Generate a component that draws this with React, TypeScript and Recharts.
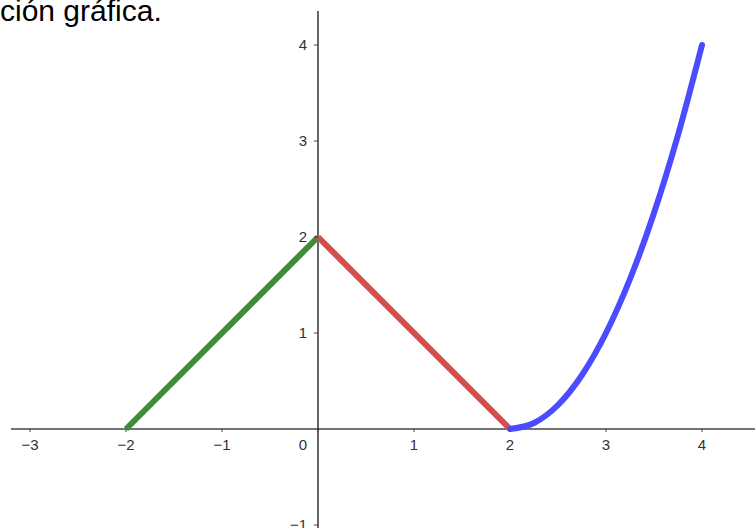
import React from "react";
import { LineChart, Line, XAxis, YAxis, ReferenceLine, ReferenceDot } from "recharts";

// Piecewise function pieces
const greenPiece = [
  { x: -2, y: 0 },
  { x: 0, y: 2 },
];
const redPiece = [
  { x: 0, y: 2 },
  { x: 2, y: 0 },
];
const bluePiece = [
  { x: 2, y: 0 },
  { x: 2.25, y: 0.0625 },
  { x: 2.5, y: 0.25 },
  { x: 2.75, y: 0.5625 },
  { x: 3, y: 1 },
  { x: 3.25, y: 1.5625 },
  { x: 3.5, y: 2.25 },
  { x: 3.75, y: 3.0625 },
  { x: 4, y: 4 },
];

const xTicks = [-3, -2, -1, 0, 1, 2, 3, 4];
const yTicks = [-1, 1, 2, 3, 4];
const tickLabel = (v: number) => (v < 0 ? "\u2212" + Math.abs(v) : String(v));

const W = 755;
const H = 528;
const X_DOMAIN: [number, number] = [-318 / 96, 437 / 96];
const Y_DOMAIN: [number, number] = [-99 / 96, 429 / 96];

const labelStyle: React.CSSProperties = {
  fontFamily: "Arial, 'Liberation Sans', sans-serif",
  fontSize: 15,
  fill: "#333",
};

const XTick = (v: number) => (props: any) => {
  const { cx, cy } = props;
  return (
    <g>
      <line x1={cx} y1={cy} x2={cx} y2={cy + 3} stroke="#444" strokeWidth={1} />
      <text x={v === 0 ? cx - 15 : cx} y={cy + 21} textAnchor="middle" style={labelStyle}>
        {tickLabel(v)}
      </text>
    </g>
  );
};

const YTick = (v: number) => (props: any) => {
  const { cx, cy } = props;
  return (
    <g>
      <line x1={cx - 4} y1={cy} x2={cx} y2={cy} stroke="#444" strokeWidth={1} />
      <text x={cx - 11} y={cy + 5} textAnchor="end" style={labelStyle}>
        {tickLabel(v)}
      </text>
    </g>
  );
};

export default function App() {
  return (
    <div style={{ position: "fixed", left: 0, top: 0, width: W, height: H, background: "#fff", overflow: "hidden" }}>
      <div
        style={{
          position: "absolute",
          left: 0,
          top: -4,
          fontFamily: "Arial, 'Liberation Sans', sans-serif",
          fontSize: 30,
          lineHeight: "30px",
          color: "#000",
          whiteSpace: "nowrap",
        }}
      >
        ción gráfica.
      </div>
      <LineChart width={W} height={H} margin={{ top: 0, right: 0, bottom: 0, left: 0 }}>
        <XAxis type="number" dataKey="x" domain={X_DOMAIN} allowDataOverflow hide />
        <YAxis type="number" dataKey="y" domain={Y_DOMAIN} allowDataOverflow hide />
        <ReferenceLine
          segment={[
            { x: -307 / 96, y: 0 },
            { x: X_DOMAIN[1], y: 0 },
          ]}
          stroke="#444"
          strokeWidth={1.5}
        />
        <ReferenceLine
          segment={[
            { x: 0, y: Y_DOMAIN[0] },
            { x: 0, y: 418 / 96 },
          ]}
          stroke="#000"
          strokeWidth={1.2}
        />
        {xTicks.map((t) => (
          <ReferenceDot key={"x" + t} x={t} y={0} r={0} shape={XTick(t)} />
        ))}
        {yTicks.map((t) => (
          <ReferenceDot key={"y" + t} x={0} y={t} r={0} shape={YTick(t)} />
        ))}
        <Line data={greenPiece} dataKey="y" type="linear" stroke="#3f8b3f" strokeWidth={6} dot={false} activeDot={false} isAnimationActive={false} />
        <Line data={redPiece} dataKey="y" type="linear" stroke="#d64c4c" strokeWidth={6} dot={false} activeDot={false} isAnimationActive={false} />
        <Line data={bluePiece} dataKey="y" type="monotone" stroke="#4b4bff" strokeWidth={6} dot={false} activeDot={false} strokeLinecap="round" isAnimationActive={false} />
      </LineChart>
    </div>
  );
}
